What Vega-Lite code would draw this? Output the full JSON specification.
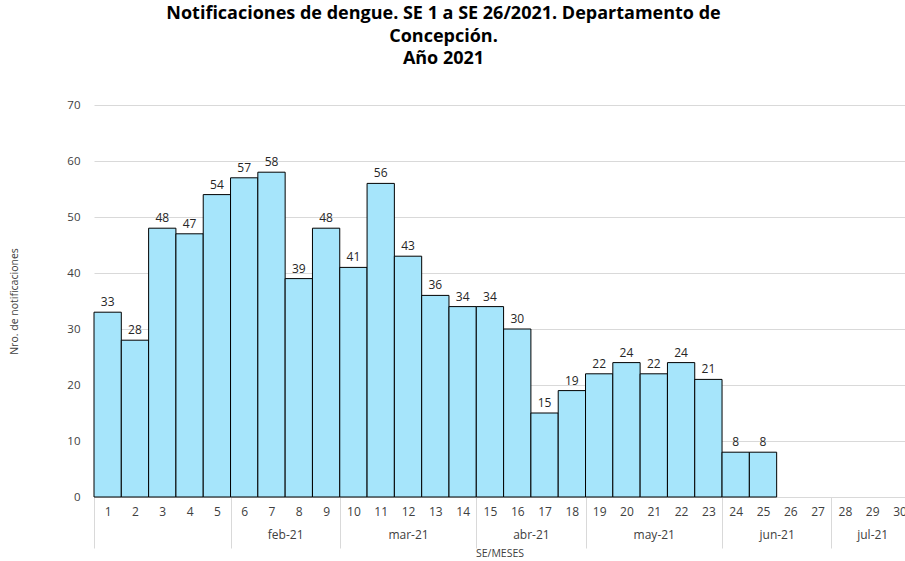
{
  "$schema": "https://vega.github.io/schema/vega-lite/v6.json",
  "width": 811,
  "height": 392,
  "autosize": {"type": "none"},
  "padding": {"left": 94, "top": 105, "right": 0, "bottom": 64},
  "background": "white",
  "config": {"view": {"stroke": null}, "font": "Open Sans"},
  "title": {
    "text": ["Notificaciones de dengue. SE 1 a SE 26/2021. Departamento de", "Concepción.", "Año 2021"],
    "fontSize": 18,
    "fontWeight": "bold",
    "font": "Open Sans",
    "color": "black",
    "anchor": "middle",
    "dx": -56,
    "offset": 31,
    "lineHeight": 22.5
  },
  "data": {
    "values": [
      {"semana": 1, "casos": 33}, {"semana": 2, "casos": 28}, {"semana": 3, "casos": 48},
      {"semana": 4, "casos": 47}, {"semana": 5, "casos": 54}, {"semana": 6, "casos": 57},
      {"semana": 7, "casos": 58}, {"semana": 8, "casos": 39}, {"semana": 9, "casos": 48},
      {"semana": 10, "casos": 41}, {"semana": 11, "casos": 56}, {"semana": 12, "casos": 43},
      {"semana": 13, "casos": 36}, {"semana": 14, "casos": 34}, {"semana": 15, "casos": 34},
      {"semana": 16, "casos": 30}, {"semana": 17, "casos": 15}, {"semana": 18, "casos": 19},
      {"semana": 19, "casos": 22}, {"semana": 20, "casos": 24}, {"semana": 21, "casos": 22},
      {"semana": 22, "casos": 24}, {"semana": 23, "casos": 21}, {"semana": 24, "casos": 8},
      {"semana": 25, "casos": 8}
    ]
  },
  "resolve": {"axis": {"x": "independent"}},
  "layer": [
    {
      "mark": {"type": "bar", "width": 27.3, "fill": "#A6E5FB", "stroke": "black", "strokeWidth": 1},
      "encoding": {
        "x": {
          "field": "semana", "type": "quantitative",
          "scale": {"domain": [0.5, 30.2], "nice": false, "zero": false, "padding": 0},
          "axis": {
            "orient": "bottom",
            "values": [1,2,3,4,5,6,7,8,9,10,11,12,13,14,15,16,17,18,19,20,21,22,23,24,25,26,27,28,29,30],
            "title": "SE/MESES",
            "titleFontSize": 10.5,
            "titleFontWeight": "normal",
            "titleColor": "#404040",
            "titlePadding": 0,
            "labelFontSize": 12,
            "labelColor": "#404040",
            "labelPadding": -42,
            "labelFlush": false,
            "labelOverlap": false,
            "domain": false,
            "grid": false,
            "ticks": true,
            "tickSize": 51,
            "tickColor": "#d9d9d9",
            "tickOffset": -13.65,
            "labelOffset": 13.65,
            "tickOpacity": {"condition": {"test": "indexof([1,6,10,15,19,24,28], datum.value) >= 0", "value": 1}, "value": 0}
          }
        },
        "y": {
          "field": "casos", "type": "quantitative",
          "scale": {"domain": [0, 70], "nice": false},
          "axis": {
            "values": [0,10,20,30,40,50,60,70],
            "title": "Nro. de notificaciones",
            "titleFontSize": 10.5,
            "titleFontWeight": "normal",
            "titleColor": "#404040",
            "titlePadding": 47,
            "labelFontSize": 11.5,
            "labelColor": "#404040",
            "labelPadding": 14,
            "domain": false,
            "ticks": false,
            "gridColor": "#d9d9d9"
          }
        }
      }
    },
    {
      "mark": {"type": "text", "baseline": "bottom", "dy": -3, "fontSize": 12, "color": "#262626"},
      "encoding": {
        "x": {
          "field": "semana", "type": "quantitative",
          "axis": {
            "orient": "bottom",
            "values": [7.5, 12, 16.5, 21, 25.5, 29],
            "labelExpr": "datum.value == 7.5 ? 'feb-21' : datum.value == 12 ? 'mar-21' : datum.value == 16.5 ? 'abr-21' : datum.value == 21 ? 'may-21' : datum.value == 25.5 ? 'jun-21' : 'jul-21'",
            "title": null,
            "labelFontSize": 12,
            "labelColor": "#404040",
            "labelPadding": 32,
            "labelFlush": false,
            "labelOverlap": false,
            "domain": false,
            "ticks": false,
            "grid": false
          }
        },
        "y": {"field": "casos", "type": "quantitative"},
        "text": {"field": "casos", "type": "quantitative"}
      }
    }
  ]
}
